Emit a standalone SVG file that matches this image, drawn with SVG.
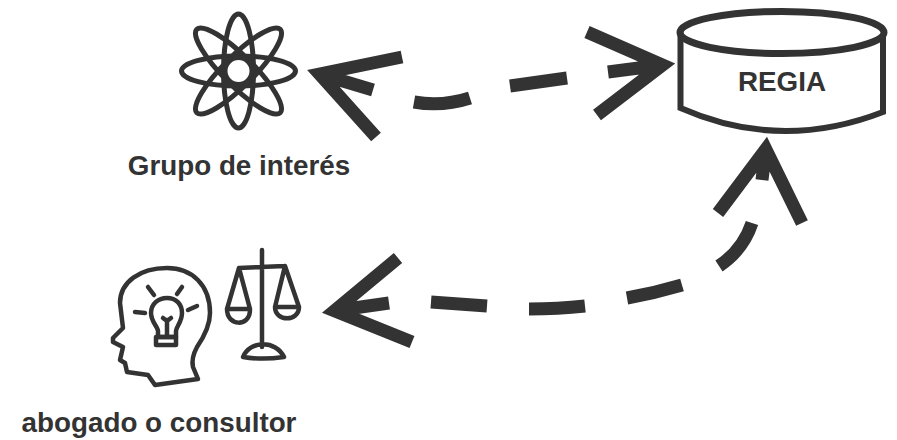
<svg xmlns="http://www.w3.org/2000/svg" width="897" height="440" viewBox="0 0 897 440">
<style>
.c{fill:none;stroke:#333;stroke-width:13;stroke-linejoin:miter;stroke-miterlimit:10}
.i{fill:none;stroke:#333;stroke-width:4.5;stroke-linejoin:round;stroke-linecap:round}
.a{fill:none;stroke:#333;stroke-width:5}
.d{fill:none;stroke:#333;stroke-width:6}
text{font-family:"Liberation Sans",Arial,sans-serif;fill:#333;font-size:27.800px;font-weight:700;text-anchor:middle}
</style>
<rect width="897" height="440" fill="#fff"/>
<g id="connectors">
<path class="c" d="M402 57L319.500 74L376 137M319.500 74L373 90"/>
<path class="c" d="M414 102Q442 107 470 98"/>
<path class="c" d="M510 86L567 78"/>
<path class="c" d="M608 72L662 65M587 32L662.500 65L597 115"/>
<path class="c" d="M398 258L334.500 310.700L412 342M334.500 310.700L389 303"/>
<path class="c" d="M431 302L487 306"/>
<path class="c" d="M529 309Q558 309 585 306"/>
<path class="c" d="M627 298Q655 293 682 285"/>
<path class="c" d="M719 266Q743 250 752 223"/>
<path class="c" d="M718 213L765.800 149.200L802 223M765.800 149.200L762 180"/>
</g>
<g id="grupo-de-interes">
<g class="a" transform="translate(238.500 71)">
<ellipse rx="57" ry="15"/>
<ellipse rx="59" ry="15" transform="rotate(45)"/>
<ellipse rx="57" ry="15" transform="rotate(90)"/>
<ellipse rx="59" ry="15" transform="rotate(135)"/>
<circle r="13.500"/>
</g>
<text x="239" y="175">Grupo de interés</text>
</g>
<g id="regia">
<path class="d" d="M680.500 32V108Q780 152 883 112V34"/>
<ellipse class="d" cx="782" cy="32.500" rx="102" ry="21" style="stroke-width:7"/>
<text x="782" y="91">REGIA</text>
</g>
<g id="abogado-o-consultor">
<path class="i" d="M198 379L193 367Q191 358 197 347Q210 328 210 313C210 285 192 268 167 268C140 268 120 282 120 303L123 328L113 338L113 342L123 347L120 360L125 363L127 372L148 375L155 385Z"/>
<path class="i" d="M158 337V331C158 327 151 322 151 313C151 304 158 298 167 298C176 298 182 304 182 313C182 322 176 327 176 331V337Z"/>
<path class="i" d="M156 337H176V345H156ZM167 335V320M163 318L167 321L171 318M148 287L154 295M182 287L177 294M135 312L145 313M188 310L197 306"/>
<path class="i" d="M262 250V347M239 268L285 266M239 268L227 309H250ZM227 309C227 327 250 327 250 310M285 266L275 307H299ZM275 307C275 322 299 322 299 307M243 357C250 340 276 340 284 357C270 359 255 359 243 357Z"/>
<text x="159" y="432">abogado o consultor</text>
</g>
</svg>
